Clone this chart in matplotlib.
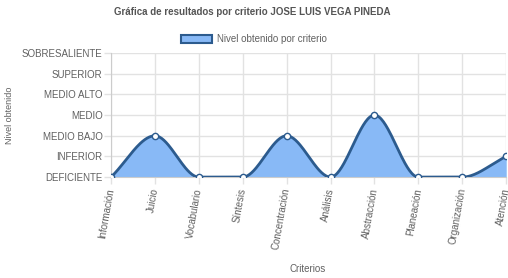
import numpy as np
import matplotlib.pyplot as plt
from matplotlib.patches import Patch

criterios = ["Información", "Juicio", "Vocabulario", "Síntesis", "Concentración",
             "Análisis", "Abstracción", "Planeación", "Organización", "Atención"]
niveles = ["DEFICIENTE", "INFERIOR", "MEDIO BAJO", "MEDIO", "MEDIO ALTO",
           "SUPERIOR", "SOBRESALIENTE"]
valores = [0, 2, 0, 0, 2, 0, 3, 0, 0, 1]

FILL = "#88b9f6"
LINE = "#2c5b8e"
GRID = "#e2e2e2"
TXT = "#606060"


def monotone(x, y, n=40):
    # monotone cubic, same idea as the chart.js "monotone" line
    x = np.asarray(x, float)
    y = np.asarray(y, float)
    h = np.diff(x)
    d = np.diff(y) / h
    m = np.zeros_like(y)
    m[0], m[-1] = d[0], d[-1]
    for i in range(1, len(y) - 1):
        if d[i - 1] * d[i] > 0:
            m[i] = (d[i - 1] + d[i]) / 2
    for i in range(len(d)):
        if d[i] == 0:
            m[i] = m[i + 1] = 0
            continue
        a, b = m[i] / d[i], m[i + 1] / d[i]
        s = a * a + b * b
        if s > 9:
            t = 3 / np.sqrt(s)
            m[i], m[i + 1] = t * a * d[i], t * b * d[i]
    xs, ys = [], []
    for i in range(len(d)):
        t = np.linspace(0, 1, n)
        h00 = 2 * t**3 - 3 * t**2 + 1
        h10 = t**3 - 2 * t**2 + t
        h01 = -2 * t**3 + 3 * t**2
        h11 = t**3 - t**2
        xs.append(x[i] + t * h[i])
        ys.append(h00 * y[i] + h10 * h[i] * m[i] + h01 * y[i + 1] + h11 * h[i] * m[i + 1])
    return np.concatenate(xs), np.concatenate(ys)


plt.rcParams["font.family"] = ["Liberation Sans", "DejaVu Sans"]

fig = plt.figure(figsize=(5.08, 2.78), dpi=100)
ax = fig.add_axes([0.2185, 0.363, 0.778, 0.446])

pos = np.arange(len(criterios))
sx, sy = monotone(pos, valores)
ax.fill_between(sx, 0, sy, color=FILL, lw=0, zorder=2)
ax.plot(sx, sy, color=LINE, lw=2, zorder=3, solid_capstyle="round")
ax.plot(pos, valores, "o", ms=4.5, mfc="white", mec=LINE, mew=1, zorder=4)

ax.set_xlim(0, len(criterios) - 1)
ax.set_ylim(0, len(niveles) - 1)
ax.set_xticks(pos)
ax.set_xticklabels(criterios, rotation=80, ha="right", va="center",
                   rotation_mode="anchor", fontsize=7, color=TXT)
ax.set_yticks(range(len(niveles)))
ax.set_yticklabels(niveles, fontsize=7, color=TXT)
ax.tick_params(axis="both", length=5, color=GRID, width=1, pad=1)
ax.tick_params(axis="x", pad=3)
ax.grid(True, color=GRID, lw=1, zorder=1)
for s in ["top", "right"]:
    ax.spines[s].set_visible(False)
for s in ["left", "bottom"]:
    ax.spines[s].set_color("#cccccc")

fig.text(0.018, 0.586, "Nivel obtenido", fontsize=6.5, color=TXT,
         rotation=90, ha="center", va="center")
fig.text(0.606, 0.02, "Criterios", fontsize=7, color=TXT, ha="center")
fig.text(0.497, 0.945, "Gráfica de resultados por criterio JOSE LUIS VEGA PINEDA",
         fontsize=7, fontweight="bold", color="#555555", ha="center")

leg = fig.legend(handles=[Patch(facecolor=FILL, edgecolor=LINE, lw=1.5,
                                label="Nivel obtenido por criterio")],
                 loc="center", bbox_to_anchor=(0.5, 0.86), frameon=False,
                 fontsize=7, handlelength=3.2, handleheight=0.9, handletextpad=0.5)
for t in leg.get_texts():
    t.set_color(TXT)

fig.savefig("out.png", dpi=100)
